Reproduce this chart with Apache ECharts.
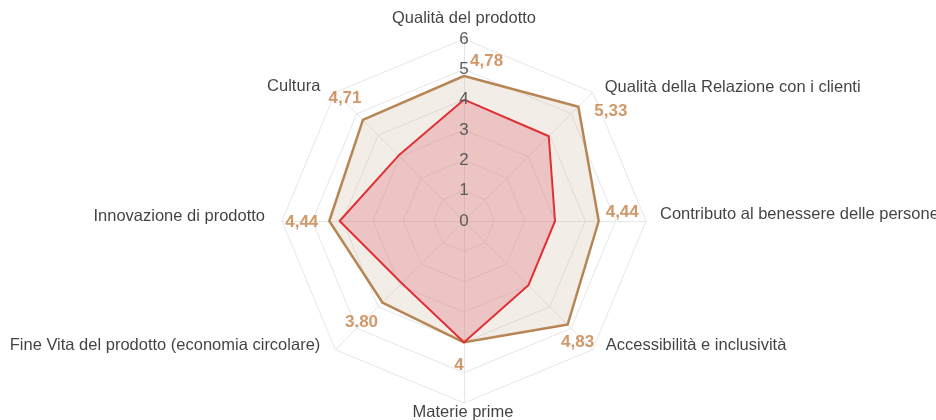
<!DOCTYPE html>
<html style="height: 100%">
<head>
    <meta charset="utf-8">
    <title>Radar</title>
    <script src="https://cdn.jsdelivr.net/npm/echarts@6/dist/echarts.min.js"></script>
</head>
<body style="height: 100%; margin: 0; background: #fff">
<div id="container" style="width: 936px; height: 420px"></div>
<script type="text/javascript">
    // assi in ordine orario, partendo dall'alto
    var axes = [
        'Qualità del prodotto',
        'Qualità della Relazione con i clienti',
        'Contributo al benessere delle persone',
        'Accessibilità e inclusività',
        'Materie prime',
        'Fine Vita del prodotto (economia circolare)',
        'Innovazione di prodotto',
        'Cultura'
    ];
    var outerValues = [4.78, 5.33, 4.44, 4.83, 4, 3.80, 4.44, 4.71];
    var outerLabels = ['4,78', '5,33', '4,44', '4,83', '4', '3.80', '4,44', '4,71'];
    var innerValues = [4, 3.95, 3, 3, 4, 2.9, 4.1, 3.05];
    var maxValue = 6;

    // posizione delle etichette dei valori
    var placement = [
        {position: 'right', distance: 6, offset: [0, -15]},
        {position: 'right', distance: 16, offset: [0, 5]},
        {position: 'right', distance: 7, offset: [0, -9]},
        {position: 'bottom', distance: 9, offset: [10, 0]},
        {position: 'bottom', distance: 14, offset: [-5, 0]},
        {position: 'bottom', distance: 11, offset: [-21, 0]},
        {position: 'left', distance: 11, offset: [0, 1]},
        {position: 'top', distance: 13, offset: [-18, 0]}
    ];
    // posizione dei nomi degli assi
    var namePlacement = [
        {position: 'top', distance: 12, offset: [0, 0]},
        {position: 'right', distance: 12, offset: [0, -5]},
        {position: 'right', distance: 14, offset: [0, -7]},
        {position: 'right', distance: 13, offset: [0, -4]},
        {position: 'bottom', distance: 1, offset: [-1, 0]},
        {position: 'left', distance: 15, offset: [0, -4]},
        {position: 'left', distance: 17, offset: [0, -5]},
        {position: 'left', distance: 15, offset: [0, -6]}
    ];

    var center = [464, 221];
    var radius = 182;

    // il radar di echarts gira in senso antiorario
    var ccw = [0, 7, 6, 5, 4, 3, 2, 1];
    var indicator = ccw.map(function (i) { return {name: axes[i], min: 0, max: maxValue}; });
    function reorder(arr) { return ccw.map(function (i) { return arr[i]; }); }

    var labelData = outerValues.map(function (v, i) {
        return {
            value: [v, i * 45],
            label: {
                show: true,
                formatter: outerLabels[i],
                position: placement[i].position,
                distance: placement[i].distance,
                offset: placement[i].offset
            }
        };
    });
    var nameData = axes.map(function (n, i) {
        return {
            value: [maxValue, i * 45],
            label: {
                show: true,
                formatter: n,
                position: namePlacement[i].position,
                distance: namePlacement[i].distance,
                offset: namePlacement[i].offset
            }
        };
    });

    var dom = document.getElementById('container');
    var myChart = echarts.init(dom);
    var option = {
        animation: false,
        radar: {
            center: center,
            radius: radius,
            shape: 'polygon',
            splitNumber: 6,
            indicator: indicator,
            axisName: {show: false},
            axisLine: {lineStyle: {color: '#e6e6e6', width: 1}},
            splitLine: {lineStyle: {color: '#e6e6e6', width: 1}},
            splitArea: {show: false}
        },
        polar: {center: center, radius: radius},
        angleAxis: {
            type: 'value', min: 0, max: 360, startAngle: 90, clockwise: true, show: false
        },
        radiusAxis: {
            type: 'value', min: 0, max: maxValue, interval: 1,
            axisLine: {show: false},
            axisTick: {show: false},
            splitLine: {show: false},
            axisLabel: {
                color: '#5a5a5a',
                fontSize: 17,
                fontFamily: 'Liberation Sans',
                margin: 0,
                align: 'center',
                verticalAlign: 'middle'
            },
            z: 10
        },
        series: [
            {
                type: 'radar',
                symbol: 'none',
                z: 2,
                data: [
                    {
                        value: reorder(outerValues),
                        lineStyle: {color: '#b5824f', width: 2.5},
                        areaStyle: {color: 'rgba(200, 170, 140, 0.3)'}
                    },
                    {
                        value: reorder(innerValues),
                        lineStyle: {color: '#e0282c', width: 2},
                        areaStyle: {color: 'rgba(220, 100, 108, 0.42)'}
                    }
                ]
            },
            {
                type: 'scatter',
                coordinateSystem: 'polar',
                symbolSize: 0,
                z: 5,
                silent: true,
                label: {
                    color: '#c47f45',
                    fontSize: 17,
                    fontWeight: 'bold',
                    fontFamily: 'Liberation Sans'
                },
                data: labelData
            },
            {
                type: 'scatter',
                coordinateSystem: 'polar',
                symbolSize: 0,
                z: 5,
                silent: true,
                label: {
                    color: '#111',
                    fontSize: 16.5,
                    fontFamily: 'Liberation Sans'
                },
                data: nameData
            }
        ]
    };
    myChart.setOption(option, true);
</script>
</body>
</html>
